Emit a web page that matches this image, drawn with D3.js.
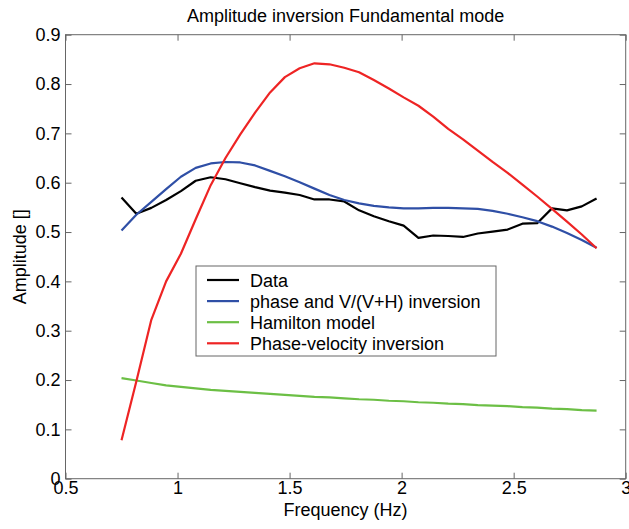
<!DOCTYPE html>
<html>
<head>
<meta charset="utf-8">
<script src="https://cdn.jsdelivr.net/npm/d3@7"></script>
<style>
  html, body { margin: 0; padding: 0; background: #fff; }
  svg { display: block; }
  text { font-family: "Liberation Sans", Arial, sans-serif; fill: #000; }
</style>
</head>
<body>
<svg id="chart" width="629" height="529"></svg>
<script>
// ---- data ----
const freq = [0.75, 0.816, 0.883, 0.949, 1.015, 1.081, 1.148, 1.214, 1.28, 1.346, 1.413,
  1.479, 1.545, 1.611, 1.678, 1.744, 1.81, 1.876, 1.943, 2.009, 2.075, 2.141, 2.208,
  2.274, 2.34, 2.406, 2.473, 2.539, 2.605, 2.671, 2.738, 2.804, 2.87];

const dataObs = [0.570, 0.537, 0.549, 0.565, 0.583, 0.604, 0.611, 0.607, 0.599, 0.591, 0.584,
  0.580, 0.575, 0.566, 0.566, 0.562, 0.544, 0.532, 0.522, 0.513, 0.488, 0.493, 0.492,
  0.490, 0.497, 0.501, 0.505, 0.517, 0.518, 0.548, 0.544, 0.552, 0.568];

const phaseVH = [0.503, 0.535, 0.561, 0.587, 0.612, 0.630, 0.639, 0.642, 0.641, 0.635, 0.624,
  0.613, 0.601, 0.588, 0.575, 0.565, 0.558, 0.553, 0.550, 0.548, 0.548, 0.549, 0.549,
  0.548, 0.547, 0.543, 0.537, 0.530, 0.522, 0.511, 0.498, 0.484, 0.468];

const hamilton = [0.204, 0.199, 0.194, 0.189, 0.186, 0.183, 0.180, 0.178, 0.176, 0.174, 0.172,
  0.170, 0.168, 0.166, 0.165, 0.163, 0.161, 0.160, 0.158, 0.157, 0.155, 0.154, 0.152,
  0.151, 0.149, 0.148, 0.147, 0.145, 0.144, 0.142, 0.141, 0.139, 0.138];

const phaseVel = [0.078, 0.197, 0.322, 0.400, 0.456, 0.526, 0.595, 0.650, 0.698, 0.742, 0.783,
  0.814, 0.832, 0.842, 0.840, 0.833, 0.824, 0.808, 0.791, 0.773, 0.756, 0.734, 0.709,
  0.688, 0.665, 0.642, 0.620, 0.596, 0.572, 0.547, 0.521, 0.495, 0.467];

const seriesNames = ["Data", "phase and V/(V+H) inversion", "Hamilton model", "Phase-velocity inversion"];
const seriesColors = ["#000000", "#2f4fa6", "#6cbf45", "#ee2424"];
const seriesValues = [dataObs, phaseVH, hamilton, phaseVel];

const xTicks = [0.5, 1, 1.5, 2, 2.5, 3];
const yTicks = [0, 0.1, 0.2, 0.3, 0.4, 0.5, 0.6, 0.7, 0.8, 0.9];

const titleText = "Amplitude inversion Fundamental mode";
const xLabel = "Frequency (Hz)";
const yLabel = "Amplitude []";

// ---- layout ----
const svg = d3.select("#chart");
const L = 65.5, R = 625.7, T = 34.7, B = 478.7;
const x = d3.scaleLinear().domain([0.5, 3]).range([L, R]);
const y = d3.scaleLinear().domain([0, 0.9]).range([B, T]);
const axisColor = "#666";
const fontSize = 18;

// plot box
svg.append("rect").attr("x", L).attr("y", T).attr("width", R - L).attr("height", B - T)
  .attr("fill", "none").attr("stroke", axisColor).attr("stroke-width", 1);

// axes with inward ticks
const tickLen = 6;
const gxB = svg.append("g").attr("transform", `translate(0,${B})`)
  .call(d3.axisBottom(x).tickValues(xTicks).tickSizeInner(-tickLen).tickSizeOuter(0).tickPadding(tickLen + 6)
    .tickFormat(d3.format("")));
const gxT = svg.append("g").attr("transform", `translate(0,${T})`)
  .call(d3.axisTop(x).tickValues(xTicks).tickSizeInner(-tickLen).tickSizeOuter(0).tickFormat(""));
const gyL = svg.append("g").attr("transform", `translate(${L},0)`)
  .call(d3.axisLeft(y).tickValues(yTicks).tickSizeInner(-tickLen).tickSizeOuter(0).tickPadding(tickLen + 6)
    .tickFormat(d3.format("")));
const gyR = svg.append("g").attr("transform", `translate(${R},0)`)
  .call(d3.axisRight(y).tickValues(yTicks).tickSizeInner(-tickLen).tickSizeOuter(0).tickFormat(""));

[gxB, gxT, gyL, gyR].forEach(g => {
  g.select(".domain").remove();
  g.selectAll(".tick line").attr("stroke", axisColor);
  g.selectAll(".tick text").attr("font-size", fontSize)
    .attr("font-family", "Liberation Sans, Arial, sans-serif").attr("fill", "#000");
});
gxB.selectAll(".tick text").attr("dy", "0.71em").attr("y", 3);
gyL.selectAll(".tick text").attr("x", -5);

// lines
const line = d3.line().x((d, i) => x(freq[i])).y(d => y(d));
seriesValues.forEach((vals, k) => {
  svg.append("path").datum(vals)
    .attr("d", line)
    .attr("fill", "none")
    .attr("stroke", seriesColors[k])
    .attr("stroke-width", 2.2)
    .attr("stroke-linejoin", "round");
});
// redraw black on top of blue? keep original order: black, blue, green, red (red on top)

// title & labels
svg.append("text").attr("x", (L + R) / 2).attr("y", 22).attr("text-anchor", "middle")
  .attr("font-size", fontSize).text(titleText);
svg.append("text").attr("x", (L + R) / 2).attr("y", 516).attr("text-anchor", "middle")
  .attr("font-size", fontSize).text(xLabel);
svg.append("text").attr("transform", `translate(26,${(T + B) / 2}) rotate(-90)`)
  .attr("text-anchor", "middle").attr("font-size", fontSize).text(yLabel);

// legend
const lg = svg.append("g");
lg.append("rect").attr("x", 196).attr("y", 266).attr("width", 300).attr("height", 90)
  .attr("fill", "#fff").attr("stroke", axisColor).attr("stroke-width", 1);
seriesNames.forEach((name, k) => {
  const cy = 280 + k * 21.1;
  lg.append("line").attr("x1", 207).attr("x2", 239).attr("y1", cy).attr("y2", cy)
    .attr("stroke", seriesColors[k]).attr("stroke-width", 2.2);
  lg.append("text").attr("x", 250).attr("y", cy + 6.5).attr("font-size", fontSize).text(name);
});
</script>
</body>
</html>
